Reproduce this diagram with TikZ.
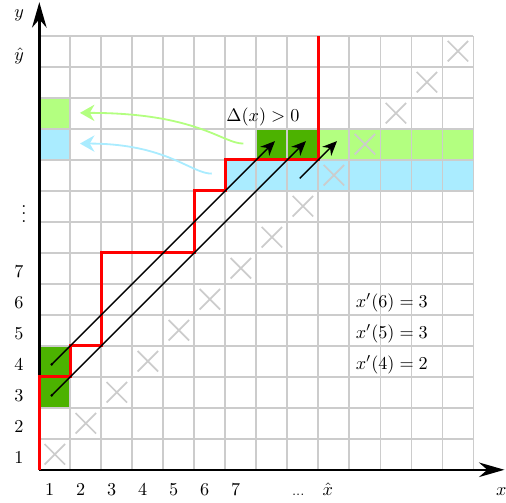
\documentclass[tikz,border=0pt]{standalone}
\usepackage{amsmath,amssymb}
\usetikzlibrary{arrows.meta}

\definecolor{darkgreen}{RGB}{76,178,0}
\definecolor{lightgreen}{RGB}{179,255,128}
\definecolor{lightblue}{RGB}{170,236,255}

\begin{document}
\begin{tikzpicture}[x=0.6cm,y=0.6cm,
  gridline/.style={draw=gray!40,line width=1pt,step=0.6cm},
  cross/.style={draw=gray!40,line width=0.9pt},
  stair/.style={draw=red,line width=1.6pt},
  diag/.style={line width=0.8pt,-{Stealth[length=8pt,width=7pt]}},
  axis/.style={line width=1.4pt,-{Stealth[length=14pt,width=8pt]}},
  lab/.style={anchor=base}]
\useasboundingbox (-1.268,-1.048) rectangle (15.05,15.15);
% coloured cells
\fill[lightblue] (6,9) rectangle (14,10);
\fill[lightblue] (0,10) rectangle (1,11);
\fill[lightgreen] (9,10) rectangle (14,11);
\fill[lightgreen] (0,11) rectangle (1,12);
\fill[darkgreen] (7,10) rectangle (9,11);
\fill[darkgreen] (0,2) rectangle (1,4);
\draw[gridline] (0,0) grid (14,14);
% crosses on the diagonal
\draw[cross] (0.17,0.17)--(0.83,0.83) (0.17,0.83)--(0.83,0.17);
\draw[cross] (1.17,1.17)--(1.83,1.83) (1.17,1.83)--(1.83,1.17);
\draw[cross] (2.17,2.17)--(2.83,2.83) (2.17,2.83)--(2.83,2.17);
\draw[cross] (3.17,3.17)--(3.83,3.83) (3.17,3.83)--(3.83,3.17);
\draw[cross] (4.17,4.17)--(4.83,4.83) (4.17,4.83)--(4.83,4.17);
\draw[cross] (5.17,5.17)--(5.83,5.83) (5.17,5.83)--(5.83,5.17);
\draw[cross] (6.17,6.17)--(6.83,6.83) (6.17,6.83)--(6.83,6.17);
\draw[cross] (7.17,7.17)--(7.83,7.83) (7.17,7.83)--(7.83,7.17);
\draw[cross] (8.17,8.17)--(8.83,8.83) (8.17,8.83)--(8.83,8.17);
\draw[cross] (9.17,9.17)--(9.83,9.83) (9.17,9.83)--(9.83,9.17);
\draw[cross] (10.17,10.17)--(10.83,10.83) (10.17,10.83)--(10.83,10.17);
\draw[cross] (11.17,11.17)--(11.83,11.83) (11.17,11.83)--(11.83,11.17);
\draw[cross] (12.17,12.17)--(12.83,12.83) (12.17,12.83)--(12.83,12.17);
\draw[cross] (13.17,13.17)--(13.83,13.83) (13.17,13.83)--(13.83,13.17);
% axes
\coordinate (O) at (0,0);
\coordinate (xtip) at (15.0,0);
\coordinate (ytip) at (0,15.08);
\draw[axis] (O) -- (xtip);
\draw[axis] (O) -- (ytip);
% staircase
\draw[stair] (0,0)--(0,3)--(1,3)--(1,4)--(2,4)--(2,7)--(5,7)--(5,9)--(6,9)--(6,10)--(9,10)--(9,14);
% diagonal arrows
\coordinate (p4) at (0.4,3.4);
\coordinate (q4) at (7.6,10.6);
\coordinate (p3) at (0.4,2.4);
\coordinate (q3) at (8.6,10.6);
\coordinate (p9) at (8.4,9.4);
\coordinate (q9) at (9.6,10.6);
\draw[diag] (p4) -- (q4);
\draw[diag] (p3) -- (q3);
\draw[diag] (p9) -- (q9);
\fill (p4) circle (0.8pt);
\fill (p3) circle (0.8pt);
% curved arrows to the first column
\coordinate (gs) at (6.58,10.52);
\coordinate (ge) at (1.31,11.51);
\coordinate (bs) at (5.56,9.55);
\coordinate (be) at (1.31,10.52);
\draw[lightgreen,line width=1pt,-{Stealth[length=8pt,width=9pt]}] (gs) .. controls (5.9,10.52) and (5.1,11.51) .. (ge);
\draw[lightblue,line width=1pt,-{Stealth[length=8pt,width=9pt]}] (bs) .. controls (4.9,9.55) and (4.1,10.52) .. (be);
% axis labels
\node[lab] (xl1) at (0.33,-0.82) {1};
\node[lab] (xl2) at (1.33,-0.82) {2};
\node[lab] (xl3) at (2.33,-0.82) {3};
\node[lab] (xl4) at (3.33,-0.82) {4};
\node[lab] (xl5) at (4.33,-0.82) {5};
\node[lab] (xl6) at (5.33,-0.82) {6};
\node[lab] (xl7) at (6.33,-0.82) {7};
\node[lab] (xldots) at (8.35,-0.82) {\scriptsize ...};
\node[lab] (xlhat) at (9.3,-0.82) {$\hat{x}$};
\node[lab] (xname) at (14.9,-0.82) {$x$};
\node[lab] (yl1) at (-0.66,0.2) {1};
\node[lab] (yl2) at (-0.66,1.2) {2};
\node[lab] (yl3) at (-0.66,2.2) {3};
\node[lab] (yl4) at (-0.66,3.2) {4};
\node[lab] (yl5) at (-0.66,4.2) {5};
\node[lab] (yl6) at (-0.66,5.2) {6};
\node[lab] (yl7) at (-0.66,6.2) {7};
\node (yldots) at (-0.5,8.43) {$\vdots$};
\node[lab] (ylhat) at (-0.65,13.2) {$\hat{y}$};
\node[lab] (yname) at (-0.65,14.6) {$y$};
% annotations
\node (delta) at (7.21,11.37) {$\Delta(x) > 0$};
\node[anchor=west] (xp6) at (10.0,5.38) {$x'(6) = 3$};
\node[anchor=west] (xp5) at (10.0,4.38) {$x'(5) = 3$};
\node[anchor=west] (xp4) at (10.0,3.38) {$x'(4) = 2$};
\end{tikzpicture}
\end{document}
